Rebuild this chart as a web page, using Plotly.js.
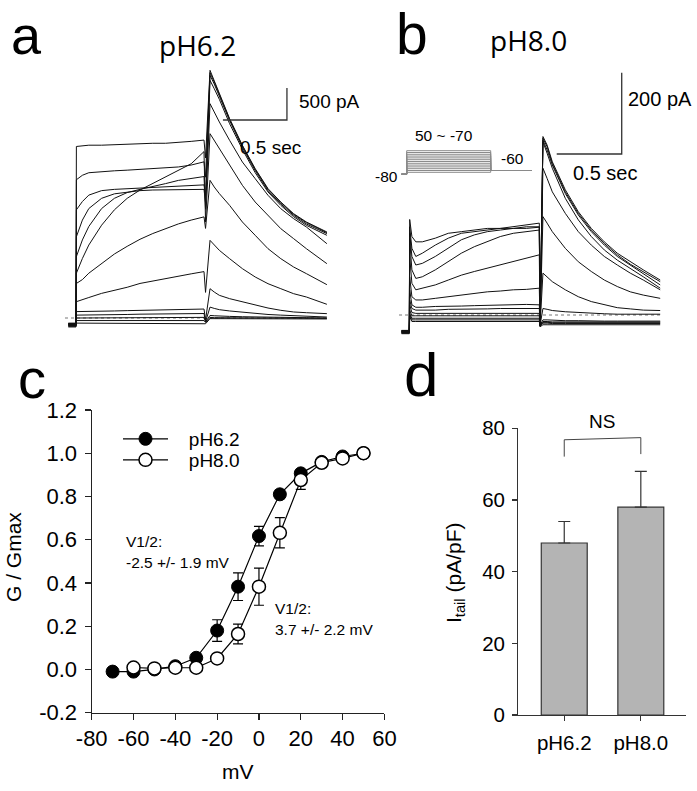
<!DOCTYPE html>
<html><head><meta charset="utf-8">
<script src="https://cdn.plot.ly/plotly-3.0.1.min.js"></script>
<style>html,body{margin:0;padding:0;background:#fff}#fig{width:697px;height:791px}</style>
</head><body><div id="fig"></div>
<script>
// ================= DATA =================
// step voltages (mV) of the protocol, 50 ~ -70
const stepVoltages = [50, 40, 30, 20, 10, 0, -10, -20, -30, -40, -50, -60, -70];
const holdingMv = -80;
const tailMv = -60;
const protoTime = [-0.06, 0, 0, 1, 1, 1.49];

// ---- panel a : pH 6.2 current traces (time in s, current in pA) ----
const timeA = [-0.06, 0, 0.003, 0.05, 0.1, 0.2, 0.3, 0.4, 0.5, 0.6, 0.7, 0.8, 0.9, 1.0, 1.012, 1.047, 1.08, 1.12, 1.2, 1.3, 1.4, 1.5, 1.6, 1.7, 1.8, 1.96];
const a_p50 = [-80, -80, 2680, 2690, 2700, 2700, 2710, 2710, 2720, 2730, 2730, 2740, 2760, 2780, 2500, 3870, 3713, 3505, 3114, 2698, 2333, 2021, 1812, 1630, 1500, 1344];
const a_p40 = [-90, -90, 2160, 2230, 2270, 2290, 2300, 2310, 2320, 2330, 2350, 2360, 2390, 2440, 2200, 3833, 3687, 3489, 3104, 2687, 2323, 2010, 1802, 1620, 1489, 1333];
const a_p30 = [-100, -100, 1690, 1820, 1920, 1990, 2010, 2020, 2030, 2030, 2040, 2050, 2060, 2080, 1900, 3791, 3656, 3468, 3083, 2666, 2302, 1989, 1781, 1604, 1469, 1318];
const a_p20 = [-110, -110, 1270, 1530, 1710, 1870, 1940, 1970, 1990, 2000, 2000, 2000, 2005, 2010, 1800, 3713, 3583, 3416, 3036, 2635, 2271, 1969, 1760, 1583, 1448, 1292];
const a_p10 = [-90, -90, 960, 1220, 1430, 1710, 1870, 1960, 2010, 2050, 2100, 2150, 2180, 2210, 1700, 3349, 3219, 3062, 2776, 2437, 2177, 1917, 1708, 1552, 1422, 1161];
const a_0   = [-120, -120, 700, 930, 1140, 1450, 1690, 1870, 2000, 2100, 2200, 2310, 2410, 2600, 1500, 2880, 2776, 2646, 2385, 2073, 1812, 1604, 1396, 1240, 1083, 849];
const a_m10 = [-100, -100, 540, 600, 700, 850, 1000, 1120, 1230, 1320, 1400, 1470, 1530, 1580, 1400, 2151, 2047, 1943, 1760, 1500, 1292, 1083, 927, 797, 693, 521];
const a_m20 = [-110, -110, 255, 290, 320, 385, 430, 480, 540, 580, 620, 650, 690, 725, 400, 1213, 1135, 1057, 927, 771, 641, 536, 458, 380, 328, 214];
const a_m30 = [-90, -90, 100, 100, 105, 110, 110, 115, 120, 125, 125, 130, 135, 140, -30, 458, 406, 354, 302, 250, 198, 156, 120, 94, 83, 68];
const a_m40 = [-120, -120, 45, 45, 50, 50, 55, 55, 60, 60, 65, 65, 70, 70, -60, 170, 150, 130, 110, 90, 70, 55, 45, 35, 25, 15];
const a_m50 = [-100, -100, 0, 0, 5, 5, 5, 5, 10, 10, 10, 10, 10, 10, -60, 40, 35, 30, 25, 20, 15, 10, 10, 5, 5, 0];
const a_m60 = [-130, -130, -40, -40, -40, -40, -40, -40, -40, -40, -40, -40, -40, -40, -70, 10, 5, 5, 0, 0, 0, -5, -5, -5, -5, -5];
const a_m70 = [-140, -140, -80, -80, -80, -80, -80, -80, -80, -80, -80, -80, -80, -80, -90, -10, -10, -15, -15, -15, -15, -15, -15, -15, -15, -15];
const baselineA = {t: [-0.086, 1.96], i: [0, 0]};

// ---- panel b : pH 8.0 current traces ----
const timeB = [-0.06, 0, 0.003, 0.02, 0.05, 0.1, 0.2, 0.3, 0.4, 0.5, 0.6, 0.7, 0.8, 0.9, 1.0, 1.006, 1.028, 1.06, 1.1, 1.2, 1.3, 1.4, 1.5, 1.6, 1.7, 1.8, 1.93];
const b_p50 = [-40, -40, 235, 193, 180, 180, 189, 201, 205, 209, 213, 213, 217, 221, 226, -25, 439, 418, 377, 308, 254, 213, 180, 152, 131, 111, 86];
const b_p40 = [-42, -42, 217, 164, 144, 152, 172, 189, 201, 205, 209, 213, 213, 217, 217, -25, 435, 414, 373, 303, 250, 209, 176, 148, 125, 107, 82];
const b_p30 = [-38, -38, 201, 144, 123, 127, 144, 164, 185, 197, 205, 209, 213, 213, 216, -25, 430, 406, 369, 299, 246, 205, 172, 144, 123, 100, 74];
const b_p20 = [-44, -44, 185, 111, 90, 94, 111, 131, 152, 168, 180, 193, 201, 205, 209, -25, 426, 398, 361, 287, 234, 193, 160, 135, 115, 94, 66];
const b_p10 = [-40, -40, 144, 78, 62, 66, 74, 86, 98, 107, 115, 123, 131, 139, 148, -25, 361, 336, 303, 250, 205, 172, 144, 123, 103, 86, 62];
const b_0   = [-46, -46, 94, 45, 37, 37, 41, 45, 49, 53, 57, 59, 62, 63, 66, -25, 242, 226, 205, 164, 131, 107, 86, 70, 57, 49, 41];
const b_m10 = [-40, -40, 62, 25, 19, 19, 21, 21, 22, 23, 24, 25, 25, 26, 25, -25, 103, 94, 82, 62, 45, 33, 25, 18, 15, 12, 11];
const b_m20 = [-42, -42, 37, 16, 12, 12, 12, 14, 14, 15, 15, 16, 16, 16, 16, -25, 16, 14, 11, 8, 6, 4, 3, 2, 2, 2, 2];
const b_m30 = [-38, -38, 25, 6, 4, 4, 4, 4, 4, 4, 4, 4, 4, 4, 4, -25, -12, -12, -13, -14, -14, -15, -15, -15, -15, -15, -15];
const b_m40 = [-44, -44, 12, -2, -2, -2, -2, -2, -2, -2, -2, -2, -2, -2, -2, -26, -16, -16, -17, -17, -17, -17, -17, -17, -17, -17, -17];
const b_m50 = [-40, -40, 4, -8, -8, -8, -8, -8, -8, -8, -8, -8, -8, -8, -8, -27, -18, -18, -19, -19, -19, -19, -19, -19, -19, -19, -19];
const b_m60 = [-42, -42, 0, -12, -12, -12, -12, -12, -12, -12, -12, -12, -12, -12, -12, -28, -20, -20, -21, -21, -21, -21, -21, -21, -21, -21, -21];
const b_m70 = [-44, -44, -4, -16, -16, -16, -16, -16, -16, -16, -16, -16, -16, -16, -16, -29, -24, -24, -24, -24, -24, -24, -24, -24, -24, -24, -24];
const baselineB = {t: [-0.079, 1.94], i: [0, 0]};

// scale bars (value sizes)
const scaleA = {pA: 500, sec: 0.5};
const scaleB = {pA: 200, sec: 0.5};

// ---- panel c : G/Gmax vs voltage ----
const vm62 = [-70, -60, -50, -40, -30, -20, -10, 0, 10, 20, 30, 40, 50];
const g62  = [-0.01, -0.01, 0.0, 0.015, 0.054, 0.18, 0.383, 0.617, 0.81, 0.907, 0.96, 0.985, 1.0];
const e62  = [0, 0, 0, 0.005, 0.01, 0.05, 0.064, 0.045, 0.02, 0.015, 0.01, 0.01, 0];
const vm80 = [-60, -50, -40, -30, -20, -10, 0, 10, 20, 30, 40, 50];
const g80  = [0.009, 0.005, 0.008, 0.008, 0.051, 0.164, 0.383, 0.632, 0.876, 0.956, 0.976, 1.0];
const e80  = [0, 0, 0, 0, 0.01, 0.046, 0.086, 0.07, 0.043, 0.01, 0.01, 0];
const cTickX = [-80, -60, -40, -20, 0, 20, 40, 60];
const cTickXText = ['-80', '-60', '-40', '-20', '0', '20', '40', '60'];
const cTickY = [-0.2, 0, 0.2, 0.4, 0.6, 0.8, 1.0, 1.2];
const cTickYText = ['-0.2', '0.0', '0.2', '0.4', '0.6', '0.8', '1.0', '1.2'];

// ---- panel d : tail current density ----
const dCats = ['pH6.2', 'pH8.0'];
const dVals = [48, 58];
const dErr  = [6, 10];
const dTickY = [0, 20, 40, 60, 80];
const nsBracketX = ['pH6.2', 'pH6.2', 'pH8.0', 'pH8.0'];
const nsBracketY = [72.1, 76.8, 77.4, 72.8];

// ================= DRAWING =================
const W = 697, H = 791;
const fx = p => p / W;
const fy = p => 1 - p / H;
const ARIAL = 'Liberation Sans, Arial, sans-serif';
const CAL = 'Open Sans, Noto Sans, sans-serif';
const INK = '#111';

const traces = [];
const tracesA = [a_p50, a_p40, a_p30, a_p20, a_p10, a_0, a_m10, a_m20, a_m30, a_m40, a_m50, a_m60, a_m70];
const tracesB = [b_p50, b_p40, b_p30, b_p20, b_p10, b_0, b_m10, b_m20, b_m30, b_m40, b_m50, b_m60, b_m70];

traces.push({x: baselineA.t, y: baselineA.i, xaxis: 'x', yaxis: 'y', mode: 'lines',
  line: {color: '#777', width: 1, dash: 'dot'}, showlegend: false, hoverinfo: 'skip'});
traces.push({x: baselineB.t, y: baselineB.i, xaxis: 'x2', yaxis: 'y2', mode: 'lines',
  line: {color: '#777', width: 1, dash: 'dot'}, showlegend: false, hoverinfo: 'skip'});

tracesA.forEach(arr => traces.push({x: timeA, y: arr, xaxis: 'x', yaxis: 'y', mode: 'lines',
  line: {color: INK, width: 1}, showlegend: false, hoverinfo: 'skip'}));
tracesB.forEach(arr => traces.push({x: timeB, y: arr, xaxis: 'x2', yaxis: 'y2', mode: 'lines',
  line: {color: INK, width: 1}, showlegend: false, hoverinfo: 'skip'}));

// scale bars (corner placed in the empty area, layout constant)
const cornerA = {t: 1.648, i: 3094};
const cornerB = {t: 1.634, i: 396};
traces.push({x: [cornerA.t - scaleA.sec, cornerA.t, cornerA.t], y: [cornerA.i, cornerA.i, cornerA.i + scaleA.pA],
  xaxis: 'x', yaxis: 'y', mode: 'lines', line: {color: '#333', width: 1.3}, showlegend: false, hoverinfo: 'skip'});
traces.push({x: [cornerB.t - scaleB.sec, cornerB.t, cornerB.t], y: [cornerB.i, cornerB.i, cornerB.i + scaleB.pA],
  xaxis: 'x2', yaxis: 'y2', mode: 'lines', line: {color: '#333', width: 1.3}, showlegend: false, hoverinfo: 'skip'});

// voltage protocol inset
stepVoltages.forEach(v => traces.push({x: protoTime, y: [holdingMv, holdingMv, v, v, tailMv, tailMv],
  xaxis: 'x3', yaxis: 'y3', mode: 'lines', line: {color: '#8a8a8a', width: 1}, showlegend: false, hoverinfo: 'skip'}));

// panel c
const NB = '\u00a0\u00a0\u00a0';
traces.push({x: vm62, y: g62, xaxis: 'x4', yaxis: 'y4', mode: 'lines+markers', name: NB + 'pH6.2', legend: 'legend',
  line: {color: '#000', width: 1.2}, marker: {size: 13, color: '#000', line: {color: '#000', width: 1}},
  error_y: {type: 'data', array: e62, color: '#000', thickness: 1.2, width: 5}, hoverinfo: 'skip'});
traces.push({x: vm80, y: g80, xaxis: 'x4', yaxis: 'y4', mode: 'lines+markers', name: NB + 'pH8.0', legend: 'legend2',
  line: {color: '#000', width: 1.2}, marker: {size: 13, color: '#fff', line: {color: '#000', width: 1.5}},
  error_y: {type: 'data', array: e80, color: '#000', thickness: 1.2, width: 5}, hoverinfo: 'skip'});

// panel d
traces.push({type: 'bar', x: dCats, y: dVals, xaxis: 'x5', yaxis: 'y5', width: 0.6, showlegend: false,
  marker: {color: '#b4b4b4', line: {color: '#333', width: 1.2}},
  error_y: {type: 'data', array: dErr, arrayminus: [0, 0], symmetric: false, color: '#333', thickness: 1.2, width: 6},
  hoverinfo: 'skip'});
traces.push({x: nsBracketX, y: nsBracketY, xaxis: 'x5', yaxis: 'y5', mode: 'lines',
  line: {color: '#444', width: 1}, showlegend: false, hoverinfo: 'skip'});

function ann(text, px, py, size, o) {
  o = o || {};
  return Object.assign({text: text, x: fx(px), y: fy(py), xref: 'paper', yref: 'paper', showarrow: false,
    font: {family: o.family || ARIAL, size: size, color: '#000'},
    xanchor: o.xa || 'center', yanchor: o.ya || 'middle'}, o.extra || {});
}

const annotations = [
  ann('a', 27, 35, 54),
  ann('b', 412, 33.5, 57),
  ann('c', 32, 378, 56),
  ann('d', 421, 374, 62),
  ann('pH6.2', 197, 45, 28, {family: CAL}),
  ann('pH8.0', 528, 40, 28, {family: CAL}),
  ann('500 pA', 297, 101, 19, {xa: 'left'}),
  ann('0.5 sec', 238, 147, 19, {xa: 'left'}),
  ann('200 pA', 626, 99, 20, {xa: 'left'}),
  ann('0.5 sec', 571, 173, 20, {xa: 'left'}),
  ann('50 ~ -70', 444, 135, 15.5),
  ann('-60', 512, 158, 15.5),
  ann('-80', 386, 176, 15.5),
  ann('V1/2:', 124, 541, 15.5, {xa: 'left'}),
  ann('-2.5 +/- 1.9 mV', 124, 562, 15.5, {xa: 'left'}),
  ann('V1/2:', 273, 608, 15.5, {xa: 'left'}),
  ann('3.7 +/- 2.2 mV', 273, 629, 15.5, {xa: 'left'}),
  ann('G / Gmax', 13, 557, 21, {extra: {textangle: -90}}),
  ann('mV', 238, 771, 21),
  ann('I<sub>tail</sub> (pA/pF)', 455, 573, 21, {extra: {textangle: -90}}),
  ann('NS', 602, 421, 19)
];

const hidden = {visible: false, fixedrange: true};
function axStyle(fontSize, lineColor) {
  return {showline: true, linecolor: lineColor, linewidth: 1.2, ticks: 'outside', ticklen: 6,
    tickcolor: lineColor, tickwidth: 1.2, showgrid: false, zeroline: false, fixedrange: true,
    tickfont: {family: ARIAL, size: fontSize, color: '#000'}};
}
const legendBase = {xanchor: 'left', yanchor: 'top', bgcolor: 'rgba(0,0,0,0)',
  font: {family: ARIAL, size: 19, color: '#000'}, itemwidth: 45};

const layout = {
  width: W, height: H, margin: {l: 0, r: 0, t: 0, b: 0}, paper_bgcolor: '#fff', plot_bgcolor: 'rgba(0,0,0,0)',
  showlegend: true,
  legend: Object.assign({x: fx(118), y: fy(420)}, legendBase),
  legend2: Object.assign({x: fx(118), y: fy(441)}, legendBase),
  xaxis: Object.assign({domain: [fx(60), fx(340)], range: [-0.125, 2.0625], anchor: 'y'}, hidden),
  yaxis: Object.assign({domain: [fy(330), fy(60)], range: [-187.5, 4031.25], anchor: 'x'}, hidden),
  xaxis2: Object.assign({domain: [fx(390), fx(670)], range: [-0.1485, 2.0054], anchor: 'y2'}, hidden),
  yaxis2: Object.assign({domain: [fy(335), fy(60)], range: [-49.2, 627.3], anchor: 'x2'}, hidden),
  xaxis3: Object.assign({domain: [fx(395), fx(535)], range: [-0.1393, 1.5274], anchor: 'y3'}, hidden),
  yaxis3: Object.assign({domain: [fy(180), fy(140)], range: [-112.8, 109.4], anchor: 'x3'}, hidden),
  xaxis4: Object.assign(axStyle(22, '#222'), {domain: [fx(91.7), fx(384.4)], range: [-80, 60], anchor: 'y4',
    tickmode: 'array', tickvals: cTickX, ticktext: cTickXText}),
  yaxis4: Object.assign(axStyle(22, '#222'), {domain: [fy(712.7), fy(410)], range: [-0.2, 1.2], anchor: 'x4',
    tickmode: 'array', tickvals: cTickY, ticktext: cTickYText, ticklabelstandoff: 3}),
  xaxis5: Object.assign(axStyle(20.5, '#333'), {domain: [fx(518.3), fx(686)], range: [-0.6, 1.59], anchor: 'y5',
    type: 'category', ticklen: 5, ticklabelstandoff: 4}),
  yaxis5: Object.assign(axStyle(20.5, '#333'), {domain: [fy(715), fy(428.3)], range: [0, 80], anchor: 'x5',
    tickmode: 'array', tickvals: dTickY, ticklen: 5, ticklabelstandoff: 3}),
  annotations: annotations
};

Plotly.newPlot('fig', traces, layout, {displayModeBar: false, staticPlot: true});
</script>
</body></html>
